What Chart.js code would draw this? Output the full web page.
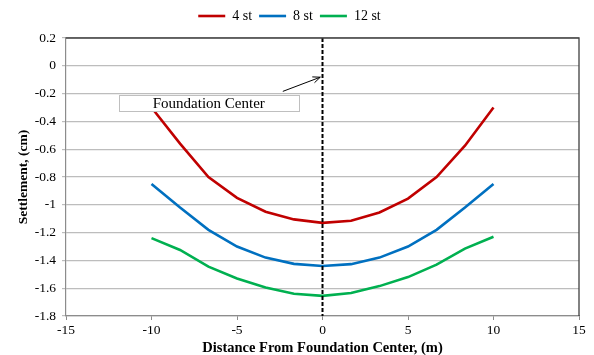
<!DOCTYPE html>
<html>
<head>
<meta charset="utf-8">
<script src="https://cdn.jsdelivr.net/npm/chart.js@4.4.1/dist/chart.umd.min.js"></script>
<style>
  html, body { margin: 0; padding: 0; background: #ffffff; }
  #wrap { width: 594px; height: 355px; position: relative; }
</style>
</head>
<body>
<div id="wrap"><canvas id="chart" width="594" height="355"></canvas></div>
<script>
// Distance from the foundation centre (m)
const distance = [-10, -8.33, -6.67, -5, -3.33, -1.67, 0, 1.67, 3.33, 5, 6.67, 8.33, 10];

// Settlement (cm) for each building height
const settle4st  = [-0.30, -0.56, -0.80, -0.95, -1.05, -1.105, -1.13, -1.115, -1.055, -0.955, -0.80, -0.575, -0.30];
const settle8st  = [-0.85, -1.02, -1.18, -1.30, -1.38, -1.425, -1.44, -1.427, -1.38, -1.30, -1.18, -1.02, -0.85];
const settle12st = [-1.24, -1.325, -1.445, -1.53, -1.595, -1.64, -1.655, -1.635, -1.585, -1.52, -1.43, -1.315, -1.23];

const seriesNames = ['4 st', '8 st', '12 st'];
const seriesColors = ['#c00000', '#0070c0', '#00b050'];

// Axis ranges
const xMin = -15, xMax = 15, xStep = 5;
const yMin = -1.8, yMax = 0.2, yStep = 0.2;

// Callout label and the point its arrow aims at
const calloutText = 'Foundation Center';
const calloutBox = { x0: -11.9, x1: -1.4, yTop: -0.211, yBottom: -0.326 };
const calloutArrow = { fromX: -2.32, fromY: -0.184, toX: -0.13, toY: -0.082 };

const serif = '"Liberation Serif", "Times New Roman", serif';

function toPoints(xs, ys) {
  return xs.map((x, i) => ({ x: x, y: ys[i] }));
}

const datasets = [settle4st, settle8st, settle12st].map((vals, i) => ({
  label: seriesNames[i],
  data: toPoints(distance, vals),
  borderColor: seriesColors[i],
  backgroundColor: seriesColors[i],
  borderWidth: 2.6,
  pointRadius: 0,
  tension: 0,
  fill: false
}));

// Dashed vertical line through the foundation centre
datasets.push({
  label: 'center',
  data: [{ x: 0, y: yMax }, { x: 0, y: yMin }],
  borderColor: '#000000',
  borderWidth: 2,
  borderDash: [4, 2],
  pointRadius: 0,
  fill: false,
  order: -1
});

// Extra space under the legend row
const legendGap = {
  id: 'legendGap',
  afterInit(chart) {
    const lg = chart.legend;
    if (!lg) return;
    const fit = lg.fit;
    lg.fit = function () {
      fit.call(this);
      this.height += 5;
    };
  }
};

// Frame (top and right edges) plus the callout box with its arrow
const decorations = {
  id: 'decorations',
  afterDatasetsDraw(chart) {
    const { ctx, chartArea: a, scales } = chart;
    const xs = scales.x, ys = scales.y;
    ctx.save();

    ctx.strokeStyle = '#404040';
    ctx.lineWidth = 1.3;
    ctx.beginPath();
    ctx.moveTo(a.left, a.top);
    ctx.lineTo(a.right, a.top);
    ctx.lineTo(a.right, a.bottom);
    ctx.stroke();

    // callout box
    const bx0 = xs.getPixelForValue(calloutBox.x0);
    const bx1 = xs.getPixelForValue(calloutBox.x1);
    const by0 = ys.getPixelForValue(calloutBox.yTop);
    const by1 = ys.getPixelForValue(calloutBox.yBottom);
    ctx.fillStyle = '#ffffff';
    ctx.fillRect(bx0, by0, bx1 - bx0, by1 - by0);
    ctx.strokeStyle = '#bfbfbf';
    ctx.lineWidth = 1;
    ctx.strokeRect(Math.round(bx0) + 0.5, Math.round(by0) + 0.5, Math.round(bx1 - bx0), Math.round(by1 - by0));
    ctx.fillStyle = '#000000';
    ctx.font = '15px ' + serif;
    ctx.textAlign = 'center';
    ctx.textBaseline = 'middle';
    ctx.fillText(calloutText, (bx0 + bx1) / 2, (by0 + by1) / 2 + 0.5);

    // arrow
    const ax0 = xs.getPixelForValue(calloutArrow.fromX);
    const ay0 = ys.getPixelForValue(calloutArrow.fromY);
    const ax1 = xs.getPixelForValue(calloutArrow.toX);
    const ay1 = ys.getPixelForValue(calloutArrow.toY);
    const ang = Math.atan2(ay1 - ay0, ax1 - ax0);
    const head = 8;
    ctx.strokeStyle = '#000000';
    ctx.lineWidth = 1;
    ctx.beginPath();
    ctx.moveTo(ax0, ay0);
    ctx.lineTo(ax1, ay1);
    ctx.moveTo(ax1 - head * Math.cos(ang - 0.4), ay1 - head * Math.sin(ang - 0.4));
    ctx.lineTo(ax1, ay1);
    ctx.lineTo(ax1 - head * Math.cos(ang + 0.4), ay1 - head * Math.sin(ang + 0.4));
    ctx.stroke();

    ctx.restore();
  }
};

new Chart(document.getElementById('chart'), {
  type: 'line',
  data: { datasets: datasets },
  plugins: [legendGap, decorations],
  options: {
    responsive: false,
    animation: false,
    devicePixelRatio: 1,
    layout: { padding: { left: 0, right: 15, top: 2, bottom: 0 } },
    plugins: {
      tooltip: { enabled: false },
      legend: {
        display: true,
        position: 'top',
        labels: {
          filter: (item) => item.datasetIndex < 3,
          usePointStyle: true,
          pointStyle: 'line',
          pointStyleWidth: 27,
          boxHeight: 13,
          padding: 7,
          color: '#000000',
          font: { family: serif, size: 14 }
        }
      }
    },
    scales: {
      x: {
        type: 'linear',
        min: xMin,
        max: xMax,
        afterFit(scale) { scale.height = 39; },
        ticks: {
          stepSize: xStep,
          color: '#000000',
          padding: 2,
          maxRotation: 0,
          font: { family: serif, size: 13.5 },
          callback: (v) => String(Math.round(v))
        },
        grid: {
          drawOnChartArea: false,
          drawTicks: true,
          tickLength: 4,
          color: '#8c8c8c'
        },
        border: { display: true, color: '#8c8c8c', width: 1.2 },
        title: {
          display: true,
          text: 'Distance From Foundation Center, (m)',
          color: '#000000',
          font: { family: serif, size: 14.5, weight: 'bold', lineHeight: 1.0 },
          padding: { top: 0, bottom: 0 }
        }
      },
      y: {
        type: 'linear',
        min: yMin,
        max: yMax,
        afterFit(scale) { scale.width = 66; },
        ticks: {
          stepSize: yStep,
          color: '#000000',
          padding: 6,
          font: { family: serif, size: 13.5 },
          callback: (v) => String(Math.round(v * 10) / 10)
        },
        grid: {
          drawOnChartArea: true,
          drawTicks: true,
          tickLength: 4,
          color: '#bdbdbd',
          lineWidth: 1.2
        },
        border: { display: true, color: '#8c8c8c', width: 1.2 },
        title: {
          display: true,
          text: 'Settlement, (cm)',
          color: '#000000',
          font: { family: serif, size: 13.5, weight: 'bold' },
          padding: { top: 15, bottom: 0 }
        }
      }
    }
  }
});
</script>
</body>
</html>
